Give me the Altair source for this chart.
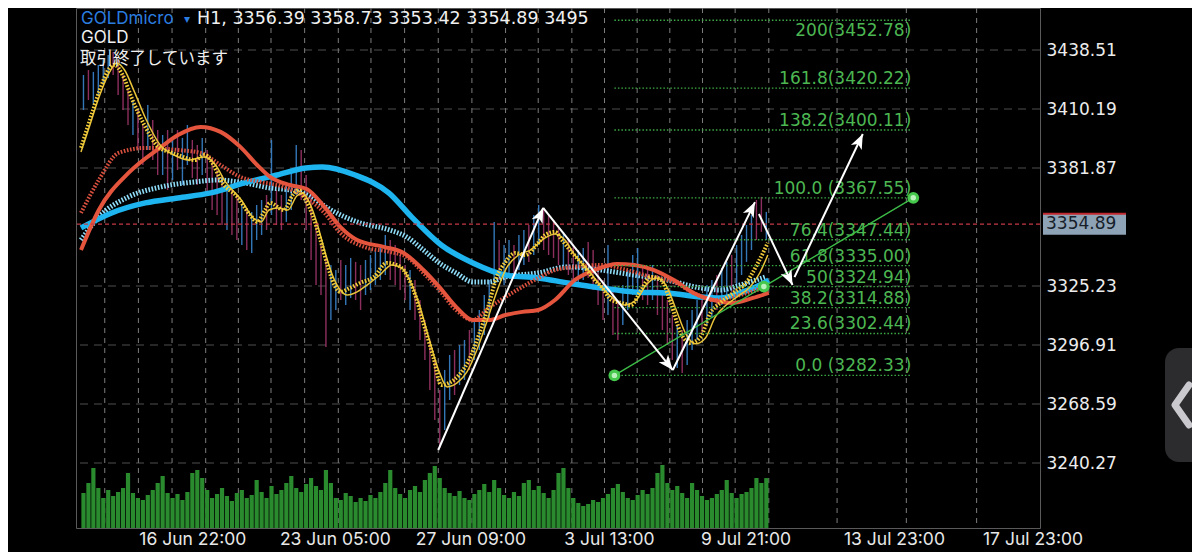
import math
import altair as alt
import pandas as pd

# ---------------- data ----------------
# candles: one entry per ~3.4 H1 bars, index 0..138
HIGH = [3426.5, 3428.9, 3428.0, 3431.3, 3433.7, 3436.1, 3437.6, 3433.7, 3426.5, 3419.3,
        3414.5, 3409.7, 3402.5, 3412.1, 3404.9, 3400.1, 3397.7, 3400.1, 3395.3, 3400.1,
        3396.3, 3402.5, 3395.3, 3392.9, 3396.3, 3390.5, 3385.7, 3380.9, 3378.5, 3373.7,
        3371.3, 3368.9, 3364.1, 3361.7, 3360.8, 3364.1, 3366.5, 3368.9, 3395.3, 3371.3,
        3368.9, 3373.7, 3380.9, 3392.9, 3390.5, 3378.5, 3368.9, 3354.5, 3344.9, 3340.1,
        3335.3, 3332.9, 3337.7, 3335.3, 3338.7, 3336.8, 3335.3, 3337.7, 3340.1, 3342.5,
        3344.9, 3349.7, 3347.3, 3344.9, 3340.1, 3335.3, 3332.9, 3328.1, 3318.5, 3308.9,
        3299.3, 3289.7, 3275.3, 3284.9, 3292.1, 3294.5, 3296.9, 3299.3, 3304.1, 3308.9,
        3313.7, 3320.9, 3328.1, 3356.0, 3347.3, 3344.9, 3347.3, 3344.9, 3349.7, 3352.1,
        3354.5, 3359.3, 3364.1, 3362.7, 3359.3, 3356.9, 3353.1, 3351.2, 3348.3, 3344.9,
        3342.5, 3343.5, 3346.4, 3342.5, 3335.3, 3328.1, 3344.9, 3323.3, 3318.5, 3325.7,
        3332.9, 3340.1, 3343.5, 3335.3, 3332.9, 3335.3, 3330.5, 3323.3, 3318.5, 3311.3,
        3306.5, 3304.1, 3308.9, 3313.7, 3318.5, 3320.9, 3325.7, 3328.1, 3330.5, 3333.9,
        3336.8, 3340.1, 3344.9, 3349.7, 3354.5, 3359.3, 3366.5, 3368.0, 3360.8]
LOW = [3409.7, 3414.5, 3412.1, 3416.9, 3421.7, 3425.1, 3426.5, 3416.9, 3409.7, 3402.5,
       3397.7, 3390.5, 3383.3, 3390.5, 3385.7, 3378.5, 3378.5, 3371.3, 3376.1, 3380.9,
       3373.7, 3383.3, 3377.1, 3373.7, 3378.5, 3368.9, 3361.7, 3359.3, 3354.5, 3352.1,
       3349.7, 3347.3, 3344.9, 3342.5, 3341.1, 3347.3, 3349.7, 3352.1, 3359.3, 3354.5,
       3352.1, 3356.0, 3361.7, 3368.9, 3366.5, 3352.1, 3337.7, 3325.7, 3320.9, 3296.0,
       3308.9, 3313.7, 3318.5, 3316.1, 3319.5, 3318.5, 3313.7, 3320.9, 3323.3, 3325.7,
       3328.1, 3330.5, 3328.1, 3325.7, 3323.3, 3318.5, 3313.7, 3308.9, 3299.3, 3289.7,
       3275.3, 3260.9, 3247.5, 3256.1, 3270.5, 3272.9, 3277.7, 3280.1, 3284.9, 3289.7,
       3294.5, 3301.7, 3308.9, 3325.7, 3328.1, 3325.7, 3330.5, 3329.1, 3332.9, 3335.3,
       3336.8, 3340.1, 3344.9, 3342.5, 3340.1, 3338.7, 3335.3, 3332.9, 3330.5, 3327.2,
       3325.7, 3328.1, 3329.1, 3323.3, 3316.1, 3308.9, 3311.3, 3301.7, 3299.3, 3306.5,
       3313.7, 3320.9, 3323.3, 3318.5, 3316.1, 3318.5, 3311.3, 3304.1, 3296.9, 3289.7,
       3285.9, 3283.5, 3287.3, 3294.5, 3299.3, 3301.7, 3306.5, 3309.9, 3313.7, 3316.1,
       3319.5, 3322.4, 3325.7, 3330.5, 3336.8, 3342.5, 3347.3, 3351.2, 3347.3]
DIRS = ("uduuuudddd" "udduddudud" "uudduddddu" "dduduuudud" "duuudddddd"
        "uuduudduuu" "uudddduddd" "ddduuduudu" "uuuuduuduu" "duuddddudd"
        "uudddduddu" "uuuddudddd" "uduuuduudu" "uduuuuddu")
VOLUME = [2450, 3150, 4200, 2800, 2100, 2660, 2240, 2520, 2800, 3850,
          2450, 2100, 1960, 2310, 2660, 3150, 3640, 2450, 2100, 2380,
          1960, 2520, 3850, 4060, 3500, 2660, 2100, 2380, 2800, 2240,
          1890, 2450, 2660, 2100, 2310, 3360, 2520, 2100, 2940, 2380,
          2660, 3150, 3640, 2800, 2520, 3080, 3500, 2940, 2660, 4060,
          3150, 2100, 1960, 2450, 2240, 1820, 2100, 1890, 2310, 2100,
          2520, 3150, 4060, 2800, 2380, 2100, 2660, 2940, 2520, 3360,
          3850, 4340, 3500, 2800, 2450, 2240, 2590, 2100, 1960, 2380,
          2660, 3080, 2520, 3360, 2800, 2310, 2100, 2520, 2240, 3150,
          3360, 2660, 2940, 2450, 2100, 2660, 3850, 4200, 2800, 2100,
          1750, 1540, 1680, 1960, 1820, 2100, 2380, 2800, 3080, 2520,
          2100, 1960, 2310, 2660, 2380, 2800, 3850, 4410, 3150, 2660,
          2940, 2450, 2100, 3150, 2660, 2240, 1960, 2100, 2380, 2660,
          3360, 2450, 2100, 2380, 2520, 2800, 3500, 3150, 3495]

# moving averages (bar position, price)
BLUE_SLOW_T = [-0.5, 5.7, 12.5, 19.1, 25.7, 32.5, 39.1, 44.9, 48.3, 54.9, 61.7, 66.3, 72.3,
               78.7, 85.3, 91.9, 97.9, 104.7, 111.3, 117.9, 124.7, 128.7, 132.7, 136.7, 138.5]
BLUE_SLOW = [3353.1, 3360.3, 3365.1, 3367.5, 3369.9, 3374.7, 3378.5, 3381.9, 3382.4, 3378.5,
             3369.9, 3358.4, 3344.9, 3336.3, 3330.5, 3329.1, 3326.7, 3324.3, 3322.4, 3321.9,
             3320.0, 3319.5, 3321.9, 3325.7, 3328.1]
BLUE_MID_T = [-0.5, 3.1, 9.1, 15.7, 22.5, 27.1, 32.5, 37.7, 41.7, 45.7, 49.3, 55.3, 61.9, 65.3,
              68.7, 71.9, 75.3, 78.7, 81.9, 85.3, 91.9, 97.9, 104.7, 111.3, 117.9, 124.7,
              128.7, 132.7, 137.9]
BLUE_MID = [3347.3, 3358.4, 3368.0, 3372.8, 3375.2, 3376.1, 3374.7, 3372.3, 3371.3, 3368.4,
            3362.7, 3356.0, 3352.1, 3348.8, 3342.5, 3336.3, 3331.5, 3327.2, 3327.2, 3329.6,
            3331.5, 3334.4, 3332.9, 3330.5, 3328.1, 3324.3, 3323.3, 3325.7, 3329.6]
RED_T = [-0.5, 3.1, 9.1, 15.7, 19.1, 23.7, 27.7, 31.7, 35.1, 37.7, 41.7, 45.1, 48.7, 51.9,
         55.3, 60.7, 64.7, 68.7, 71.9, 75.3, 78.7, 81.9, 85.3, 88.7, 91.9, 95.3, 99.3, 103.3,
         107.9, 111.3, 115.3, 119.3, 123.3, 127.3, 131.3, 135.3, 138.5]
RED = [3342.5, 3361.7, 3379.5, 3392.0, 3397.7, 3401.6, 3399.2, 3392.0, 3383.3, 3377.6,
       3373.7, 3371.8, 3363.2, 3353.6, 3347.3, 3344.0, 3341.1, 3332.9, 3324.8, 3315.2,
       3308.9, 3308.9, 3311.3, 3312.8, 3313.7, 3318.5, 3328.1, 3332.9, 3335.8, 3335.3,
       3332.9, 3328.1, 3321.9, 3318.5, 3317.1, 3319.5, 3321.9]
RED_DOT_T = [-0.5, 3.1, 7.1, 12.5, 19.1, 23.7, 27.7, 31.7, 35.7, 40.5, 45.1, 48.7, 51.9, 56.7,
             61.9, 65.3, 68.7, 71.9, 75.3, 78.7, 81.9, 85.3, 88.7, 91.9, 95.3, 99.3, 104.7,
             109.9, 114.7, 119.3, 123.3, 127.3, 132.7, 137.9]
RED_DOT = [3360.3, 3376.1, 3389.1, 3391.5, 3390.5, 3389.1, 3383.3, 3377.6, 3375.2, 3372.8,
           3367.5, 3360.3, 3350.7, 3344.0, 3341.6, 3339.2, 3331.5, 3323.3, 3313.7, 3308.9,
           3314.7, 3320.0, 3324.8, 3329.1, 3332.9, 3334.4, 3335.3, 3332.9, 3329.6, 3327.2,
           3321.9, 3318.5, 3320.9, 3324.8]
YEL_FAST_T = [-0.5, 1.3, 3.3, 5.3, 6.3, 7.9, 9.9, 12.3, 15.1, 17.3, 19.1, 22.5, 24.5, 26.3,
              27.7, 31.1, 33.7, 35.1, 36.7, 37.7, 40.5, 42.3, 43.5, 44.9, 46.3, 47.9, 49.3,
              50.7, 51.9, 53.9, 55.9, 58.7, 61.3, 63.3, 64.7, 66.7, 68.7, 70.7, 72.3, 73.9,
              75.9, 77.9, 79.9, 81.9, 83.3, 85.3, 87.3, 89.3, 91.9, 93.3, 95.3, 96.7, 98.3,
              101.3, 103.3, 104.7, 106.7, 108.7, 110.7, 112.7, 114.7, 116.7, 118.7, 120.7,
              122.7, 124.7, 126.7, 128.7, 131.3, 133.9, 136.3, 138.3]
YEL_FAST = [3391.5, 3404.9, 3419.3, 3429.9, 3431.3, 3426.5, 3414.5, 3402.5, 3392.0, 3389.6,
            3388.1, 3385.7, 3388.1, 3383.3, 3376.1, 3368.0, 3359.3, 3356.0, 3361.7, 3365.1,
            3361.7, 3368.9, 3371.3, 3366.5, 3359.3, 3347.3, 3335.3, 3325.7, 3322.4, 3324.3,
            3326.7, 3329.6, 3336.3, 3335.3, 3332.9, 3323.3, 3307.5, 3291.2, 3277.7, 3278.7,
            3282.5, 3289.7, 3301.7, 3316.1, 3328.1, 3336.8, 3341.1, 3340.1, 3345.9, 3349.7,
            3351.2, 3347.3, 3342.5, 3334.4, 3328.1, 3324.8, 3318.5, 3317.1, 3316.1, 3323.3,
            3329.6, 3328.1, 3317.1, 3302.7, 3297.9, 3300.8, 3312.3, 3317.1, 3321.9, 3326.7,
            3336.3, 3345.9]
YEL_SLOW_T = [-0.5, 1.3, 3.3, 5.3, 6.7, 8.3, 10.3, 12.7, 15.5, 18.3, 21.3, 24.3, 26.7, 28.7,
              31.9, 34.3, 35.9, 37.5, 39.3, 41.3, 43.1, 44.3, 45.9, 47.3, 48.7, 50.3, 51.9,
              53.3, 55.3, 57.3, 59.9, 62.3, 64.3, 65.9, 67.9, 69.9, 71.9, 73.5, 75.5, 77.5,
              79.5, 81.5, 83.5, 85.5, 87.9, 90.3, 93.3, 95.3, 97.3, 99.3, 102.3, 104.7, 106.7,
              109.3, 111.7, 113.7, 115.7, 117.7, 119.7, 121.7, 123.7, 125.7, 127.7, 129.9,
              132.3, 134.7, 136.7, 138.3]
YEL_SLOW = [3389.6, 3402.5, 3416.9, 3428.0, 3432.3, 3428.9, 3418.4, 3404.9, 3392.9, 3388.1,
            3385.7, 3387.2, 3383.3, 3375.2, 3366.5, 3357.9, 3356.0, 3361.7, 3362.7, 3361.7,
            3368.4, 3369.9, 3364.1, 3354.5, 3342.5, 3330.5, 3323.3, 3320.9, 3322.4, 3325.7,
            3330.5, 3335.3, 3333.9, 3328.1, 3316.1, 3299.3, 3284.0, 3276.8, 3278.7, 3284.0,
            3294.5, 3308.0, 3322.4, 3333.9, 3340.1, 3342.5, 3348.3, 3350.2, 3347.3, 3340.1,
            3332.0, 3324.8, 3320.0, 3316.1, 3318.5, 3325.7, 3329.1, 3325.7, 3314.3, 3302.4,
            3297.5, 3300.3, 3310.4, 3316.1, 3320.4, 3324.8, 3331.6, 3340.1]

PRICE_TICKS = [3438.51, 3410.19, 3381.87, 3325.23, 3296.91, 3268.59, 3240.27]
LAST_PRICE = 3354.89
HEADER_OHLC = [3356.39, 3358.73, 3353.42, 3354.89]
HEADER_VOLUME = 3495
TIME_LABELS = ["16 Jun 22:00", "23 Jun 05:00", "27 Jun 09:00", "3 Jul 13:00",
               "9 Jul 21:00", "13 Jul 23:00", "17 Jul 23:00"]
TIME_LABEL_POS = [22.1, 50.9, 78.3, 106.3, 133.9, 163.9, 191.9]
DAY_GRID = [4.3, 11.1, 17.9, 24.7, 31.3, 37.9, 44.7, 51.5, 58.1, 64.9, 71.7, 78.5, 85.3,
            91.9, 98.7, 105.3, 111.9, 118.5, 125.1, 131.7, 138.5, 152.3, 166.3, 180.5]

FIB_LEVELS = [3452.78, 3420.22, 3400.11, 3367.55, 3347.44, 3335.00, 3324.94, 3314.88, 3302.44, 3282.33]
FIB_TEXT = ["200(3452.78)", "161.8(3420.22)", "138.2(3400.11)", "100.0 (3367.55)",
            "76.4(3347.44)", "61.8(3335.00)", "50(3324.94)", "38.2(3314.88)",
            "23.6(3302.44)", "0.0 (3282.33)"]
FIB_START, FIB_END = 107.3, 167.3
TREND_T = [107.3, 137.5, 167.7]
TREND_P = [3282.33, 3324.94, 3367.55]

ZZ_T0 = [71.7, 92.9, 119.1, 136.5, 143.7]
ZZ_P0 = [3246.5, 3362.7, 3284.9, 3359.8, 3329.5]
ZZ_T1 = [92.9, 119.1, 135.7, 143.3, 157.5]
ZZ_P1 = [3362.7, 3284.9, 3365.5, 3325.7, 3398.2]

# ---------------- scales / layout ----------------
W, H = 964, 520
X_DOMAIN = [-0.5, 192.3]
Y_DOMAIN = [3209.07, 3458.67]
VOL_DOMAIN = [0, 36400]
xs = alt.Scale(domain=X_DOMAIN, nice=False, zero=False)
ys = alt.Scale(domain=Y_DOMAIN, nice=False, zero=False)
FONT = "Inter"
NUMFONT = "DejaVu Sans"


def X(f):
    return alt.X(f, type="quantitative", scale=xs, axis=None)


def Y(f, axis=None):
    return alt.Y(f, type="quantitative", scale=ys, axis=axis)


def line(ts, ps, color, width, dash=None):
    df = pd.DataFrame({"t": ts, "p": ps})
    kw = dict(color=color, strokeWidth=width, interpolate="monotone")
    if dash:
        kw["strokeDash"] = dash
    return alt.Chart(df).mark_line(**kw).encode(x=X("t"), y=Y("p"))


# horizontal grid + price axis
hgrid = alt.Chart(pd.DataFrame({"p": PRICE_TICKS})).mark_rule(
    color="#4e4e4e", strokeDash=[8, 6], strokeWidth=1
).encode(
    y=Y("p", axis=alt.Axis(orient="right", values=PRICE_TICKS, format=".2f", labelFont=NUMFONT,
                           labelFontSize=17, labelColor="#ececec", labelPadding=6,
                           ticks=False, domain=False, grid=False, title=None))
)
vgrid = alt.Chart(pd.DataFrame({"t": DAY_GRID})).mark_rule(
    color="#7c7c7c", strokeDash=[5, 5], strokeWidth=1
).encode(x=X("t"))

cdf = pd.DataFrame({"t": list(range(len(HIGH))), "hi": HIGH, "lo": LOW,
                    "dir": list(DIRS), "vol": VOLUME})
volume = alt.Chart(cdf).mark_bar(width=4.2, color="#2a8a2e").encode(
    x=X("t"), y=alt.Y("vol:Q", scale=alt.Scale(domain=VOL_DOMAIN, nice=False), axis=None)
)
candles = alt.Chart(cdf).mark_rule(strokeWidth=1.4, opacity=0.9).encode(
    x=X("t"), y=Y("lo"), y2="hi",
    color=alt.Color("dir:N", scale=alt.Scale(domain=["u", "d"], range=["#3a84cc", "#9c3468"]),
                    legend=None)
)

blue_mid = line(BLUE_MID_T, BLUE_MID, "#8fdcf8", 5, [1.6, 1.6])
blue_slow = line(BLUE_SLOW_T, BLUE_SLOW, "#1db4ef", 5.5)
red_dot = line(RED_DOT_T, RED_DOT, "#d9503e", 4, [1.6, 1.6])
red = line(RED_T, RED, "#e5553d", 4)
yel_slow = line(YEL_SLOW_T, YEL_SLOW, "#e9c43a", 1.5)
yel_fast = line(YEL_FAST_T, YEL_FAST, "#f3cc3a", 4, [1.6, 1.6])

price_line = alt.Chart(pd.DataFrame({"p": [LAST_PRICE]})).mark_rule(
    color="#c33a45", strokeDash=[4, 3], strokeWidth=1.3
).encode(y=Y("p"))

fdf = pd.DataFrame({"i": list(range(len(FIB_LEVELS))), "p": FIB_LEVELS, "label": FIB_TEXT,
                    "t0": FIB_START, "t1": FIB_END})
fib_lines = alt.Chart(fdf).mark_rule(color="#3caa45", strokeDash=[1.5, 2], strokeWidth=1.3).encode(
    x=X("t0"), x2="t1", y=Y("p"))
fib_text = alt.Chart(fdf).transform_filter("datum.i > 0").mark_text(
    align="right", baseline="alphabetic", dy=-4, font=NUMFONT, fontSize=17, color="#4cb752"
).encode(x=X("t1"), y=Y("p"), text="label:N")
# the top level sits at the very edge of the canvas: its label goes just under the line
fib_text_top = alt.Chart(fdf).transform_filter("datum.i == 0").mark_text(
    align="right", baseline="top", dy=3, font=NUMFONT, fontSize=17, color="#4cb752"
).encode(x=X("t1"), y=Y("p"), text="label:N")

tdf = pd.DataFrame({"t": TREND_T, "p": TREND_P})
trend = alt.Chart(tdf).mark_line(color="#3dbb47", strokeWidth=1.4).encode(x=X("t"), y=Y("p"))
dots_outer = alt.Chart(tdf).mark_circle(size=140, color="#46c84c", opacity=1).encode(x=X("t"), y=Y("p"))
dots_inner = alt.Chart(tdf).mark_circle(size=30, color="#c8f6c9", opacity=0.9).encode(x=X("t"), y=Y("p"))

PX_T = W / (X_DOMAIN[1] - X_DOMAIN[0])
PX_P = H / (Y_DOMAIN[1] - Y_DOMAIN[0])
angles = []
for t0, p0, t1, p1 in zip(ZZ_T0, ZZ_P0, ZZ_T1, ZZ_P1):
    dx = (t1 - t0) * PX_T
    dy = -(p1 - p0) * PX_P
    angles.append(math.degrees(math.atan2(dx, -dy)) % 360)
zdf = pd.DataFrame({"t0": ZZ_T0, "p0": ZZ_P0, "t1": ZZ_T1, "p1": ZZ_P1, "angle": angles})
zz_lines = alt.Chart(zdf).mark_rule(color="white", strokeWidth=2).encode(
    x=X("t0"), x2="t1", y=Y("p0"), y2="p1")
zz_heads = alt.Chart(zdf).mark_point(
    shape="M0,0 L0.6,1.5 L0,1.1 L-0.6,1.5 Z", filled=True, color="white", size=400, opacity=1
).encode(x=X("t1"), y=Y("p1"), angle=alt.Angle("angle:Q", scale=None))

HALF_BOX = 10.5 / PX_P
bdf = pd.DataFrame({"p": [LAST_PRICE], "top": [LAST_PRICE + HALF_BOX], "bot": [LAST_PRICE - HALF_BOX],
                    "label": [f"{LAST_PRICE:.2f}"]})
box = alt.Chart(bdf).mark_rect(color="#8fa3b6").encode(
    x=alt.value(967), x2=alt.value(1050), y=Y("top"), y2="bot")
box_line = alt.Chart(bdf).mark_rule(color="#c0282d", strokeWidth=2).encode(
    x=alt.value(967), x2=alt.value(1050), y=Y("top"))
box_text = alt.Chart(bdf).mark_text(align="left", baseline="middle", font=NUMFONT, fontSize=17,
                                    color="#16202a").encode(x=alt.value(970), y=Y("p"), text="label:N")

xl = pd.DataFrame({"t": TIME_LABEL_POS, "label": TIME_LABELS})
x_labels = alt.Chart(xl).mark_text(align="center", baseline="middle", font=FONT, fontSize=17.5,
                                   color="#e8e8e8").encode(x=X("t"), y=alt.value(532), text="label:N")


def header(txt, x, y, color, size, font=FONT):
    return alt.Chart(pd.DataFrame({"label": [txt]})).mark_text(
        align="left", baseline="middle", font=font, fontSize=size, color=color
    ).encode(x=alt.value(x), y=alt.value(y), text="label:N")


hdr_line = "H1, " + " ".join(f"{v:.2f}" for v in HEADER_OHLC) + f" {HEADER_VOLUME}"
h1 = header("GOLDmicro", 5, 11, "#2b7de0", 17)
h2 = header("▾", 108, 11, "#2b7de0", 12, "DejaVu Sans")
h3 = header(hdr_line, 121, 11, "#f0f0f0", 17.5, NUMFONT)
h4 = header("GOLD", 5, 30, "#f0f0f0", 17)
h5 = header("取引終了しています", 4, 51, "#f0f0f0", 16.5, "Noto Sans CJK JP")

panel = alt.Chart(pd.DataFrame({"a": [0]})).mark_rect(color="#2c2c2e", cornerRadius=14).encode(
    x=alt.value(1089), x2=alt.value(1140), y=alt.value(340), y2=alt.value(454))
chevron = alt.Chart(pd.DataFrame({"a": [0]})).mark_point(
    shape="M0.35,-1 L-0.35,0 L0.35,1", filled=False, color="#c9c9ce", size=1600,
    strokeWidth=7, strokeCap="round", strokeJoin="round", opacity=1
).encode(x=alt.value(1106), y=alt.value(397))

chart = alt.layer(
    hgrid, vgrid, volume, candles,
    blue_mid, blue_slow, red_dot, red, yel_slow, yel_fast,
    price_line, fib_lines, fib_text, fib_text_top, trend, dots_outer, dots_inner,
    zz_lines, zz_heads, box, box_line, box_text, x_labels,
    h1, h2, h3, h4, h5, panel, chevron
).resolve_scale(y="independent").properties(
    width=W, height=H,
    padding={"left": 68, "top": 0, "right": 152, "bottom": 24},
    autosize=alt.AutoSizeParams(type="none"),
    background="#000000",
).configure_view(stroke="#5a5a5a", strokeWidth=1)

chart.save("out.html", embed_options={"renderer": "svg", "actions": False})
